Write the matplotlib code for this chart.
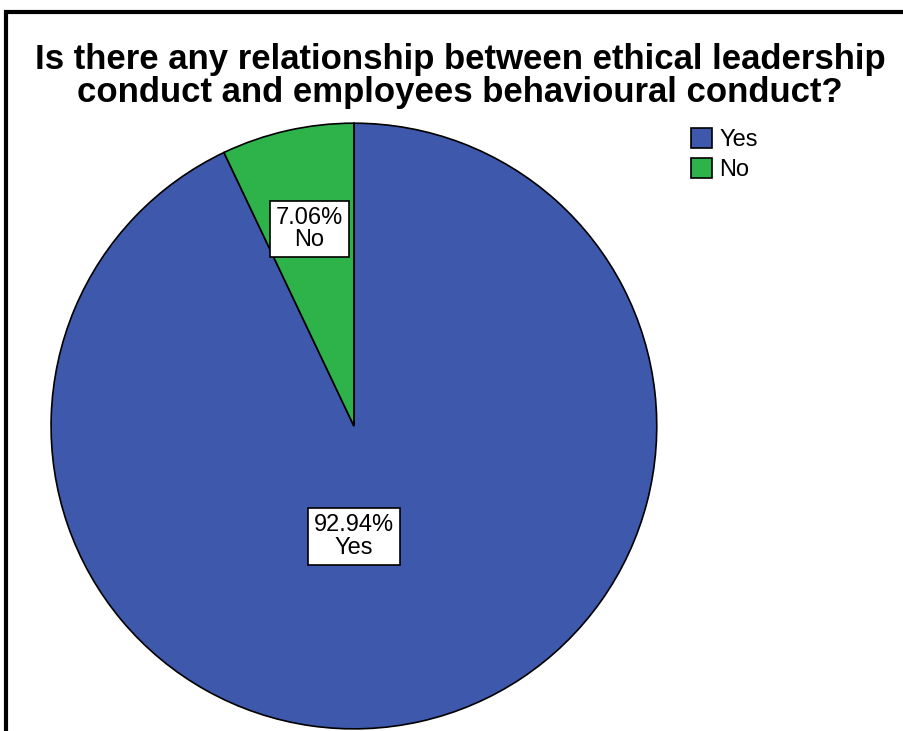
import matplotlib.pyplot as plt
from matplotlib.patches import Rectangle, Patch
import numpy as np

plt.rcParams['font.family'] = ['Liberation Sans', 'DejaVu Sans']

# data
categories = ["Yes", "No"]
percents = [92.94, 7.06]
colors = ["#3E58AC", "#2EB34B"]
title = "Is there any relationship between ethical leadership\nconduct and employees behavioural conduct?"

fig = plt.figure(figsize=(9.04, 7.31), dpi=100)

# outer frame (only top/left visible in the reference crop)
fig.patches.append(Rectangle((6 / 904, -0.05), 1.2, 1 - 11.5 / 731 + 0.05,
                             transform=fig.transFigure, fill=False,
                             edgecolor="black", linewidth=3, zorder=10))

ax = fig.add_axes([0.0565, 0.0027, 0.670, 0.829])
wedges, _ = ax.pie(percents, colors=colors, startangle=90, counterclock=False,
                   radius=1.0, wedgeprops=dict(edgecolor="black", linewidth=1.2))
ax.set_xlim(-1, 1)
ax.set_ylim(-1, 1)
ax.set_aspect("equal")
ax.axis("off")

# slice labels
box = dict(boxstyle="square,pad=0.25", facecolor="white", edgecolor="black", linewidth=1.2)
# "No" slice: at its mid angle
mid_no = np.deg2rad(90 + percents[1] / 100 * 360 / 2)
ax.text(0.667 * np.cos(mid_no), 0.667 * np.sin(mid_no),
        f"{percents[1]:.2f}%\n{categories[1]}", ha="center", va="center",
        fontsize=17, bbox=box, linespacing=1.05)
# "Yes" slice: SPSS puts it below the centre
ax.text(0.0, -0.365, f"{percents[0]:.2f}%\n{categories[0]}", ha="center", va="center",
        fontsize=17, bbox=box, linespacing=1.05)

fig.text(0.509, 1 - 43 / 731, title, ha="center", va="top", fontsize=25,
         fontweight="bold", linespacing=1.0)

handles = [Patch(facecolor=c, edgecolor="black", linewidth=1.2) for c in colors]
fig.legend(handles, categories, loc="upper left", bbox_to_anchor=(691 / 904, 1 - 128 / 731),
           frameon=False, fontsize=17, handlelength=0.9, handleheight=0.9,
           handletextpad=0.3, labelspacing=0.3, borderpad=0, borderaxespad=0)

fig.savefig("out.png", dpi=100)
